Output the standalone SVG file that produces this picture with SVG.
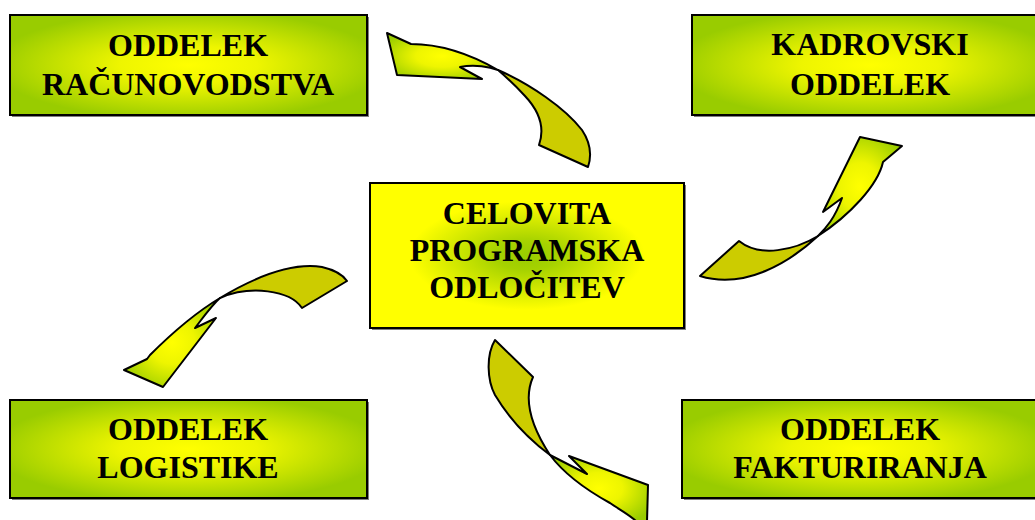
<svg xmlns="http://www.w3.org/2000/svg" width="1035" height="520" viewBox="0 0 1035 520">
  <defs>
    <radialGradient id="boxFill" cx="0.5" cy="0.5" r="0.55">
      <stop offset="0" stop-color="#FFFF00"/>
      <stop offset="0.35" stop-color="#EEF500"/>
      <stop offset="1" stop-color="#99CC00"/>
    </radialGradient>
    <radialGradient id="coreFill" cx="0.5" cy="0.5" r="0.5">
      <stop offset="0" stop-color="#99CC00"/>
      <stop offset="0.2" stop-color="#A6D200"/>
      <stop offset="0.75" stop-color="#FFFF00"/>
      <stop offset="1" stop-color="#FFFF00"/>
    </radialGradient>
    <radialGradient id="headFill" cx="0.5" cy="0.5" r="0.6">
      <stop offset="0" stop-color="#FFFF00"/>
      <stop offset="0.4" stop-color="#EEF500"/>
      <stop offset="1" stop-color="#99CC00"/>
    </radialGradient>
    <style>
      .box { stroke: #000; stroke-width: 2; }
      .shadow { fill: #808080; }
      .label { font-family: "Liberation Serif", "Times New Roman", serif; font-weight: bold; font-size: 32px; fill: #000; text-anchor: middle; }
      .head { fill: url(#headFill); stroke: #000; stroke-width: 2; stroke-linejoin: round; }
      .tail { fill: #CCCC00; stroke: #000; stroke-width: 2; stroke-linejoin: round; }
    </style>
  </defs>
  <rect width="1035" height="520" fill="#FFFFFF"/>

  <!-- curved ribbon arrows -->
  <g id="connectors">
    <g id="arrow-top">
      <path class="tail" d="M498,70 C530,84 565,108 582,130 C592,145 591,158 588,167 L539,145 C545,128 540,112 525,96 C515,85 505,76 498,70 Z"/>
      <path class="head" d="M387,33 L411,44 C440,44 470,54 498,70 C490,67 475,64 460,67 L482,79 L397,75 Z"/>
    </g>
    <g id="arrow-right">
      <path class="tail" d="M818,236 C790,262 745,290 700,276 L739,241 C760,258 795,250 818,236 Z"/>
      <path class="head" d="M860,137 L902,146 L883,162 C878,185 850,215 818,236 C826,228 835,218 842,198 L823,212 Z"/>
    </g>
    <g id="arrow-left">
      <path class="tail" d="M220,298 C250,280 290,262 322,267 C335,270 343,275 347,281 L302,308 C290,290 250,285 220,298 Z"/>
      <path class="head" d="M220,298 C200,310 175,330 150,355 L147,359 L124,370 L163,387 L216,318 L195,328 C205,315 212,305 220,298 Z"/>
    </g>
    <g id="arrow-bottom">
      <path class="tail" d="M495,340 L533,377 C525,395 527,420 550,455 C530,440 510,420 495,395 C487,380 486,355 495,340 Z"/>
      <path class="head" d="M550,455 L587,474 L569,456 L648,485 L647,522 L637,522 C630,515 620,510 610,503 C590,492 565,475 550,455 Z"/>
    </g>
  </g>

  <g id="node-racunovodstvo">
    <rect class="shadow" x="12" y="17" width="357" height="100"/>
    <rect class="box" x="10" y="15" width="357" height="100" fill="url(#boxFill)"/>
    <text class="label" x="188" y="56">ODDELEK</text>
    <text class="label" x="188" y="95">RAČUNOVODSTVA</text>
  </g>

  <g id="node-kadrovski">
    <rect class="shadow" x="694" y="17" width="356" height="100"/>
    <rect class="box" x="692" y="15" width="356" height="100" fill="url(#boxFill)"/>
    <text class="label" x="870" y="55">KADROVSKI</text>
    <text class="label" x="870" y="95">ODDELEK</text>
  </g>

  <g id="node-odlocitev">
    <rect class="shadow" x="372" y="185" width="314" height="145"/>
    <rect class="box" x="370" y="183" width="314" height="145" fill="url(#coreFill)"/>
    <text class="label" x="527" y="224">CELOVITA</text>
    <text class="label" x="527" y="261">PROGRAMSKA</text>
    <text class="label" x="527" y="298">ODLOČITEV</text>
  </g>

  <g id="node-logistika">
    <rect class="shadow" x="12" y="402" width="357" height="98"/>
    <rect class="box" x="10" y="400" width="357" height="98" fill="url(#boxFill)"/>
    <text class="label" x="188" y="440">ODDELEK</text>
    <text class="label" x="188" y="478">LOGISTIKE</text>
  </g>

  <g id="node-fakturiranje">
    <rect class="shadow" x="684" y="402" width="356" height="98"/>
    <rect class="box" x="682" y="400" width="356" height="98" fill="url(#boxFill)"/>
    <text class="label" x="860" y="440">ODDELEK</text>
    <text class="label" x="860" y="478">FAKTURIRANJA</text>
  </g>
</svg>
